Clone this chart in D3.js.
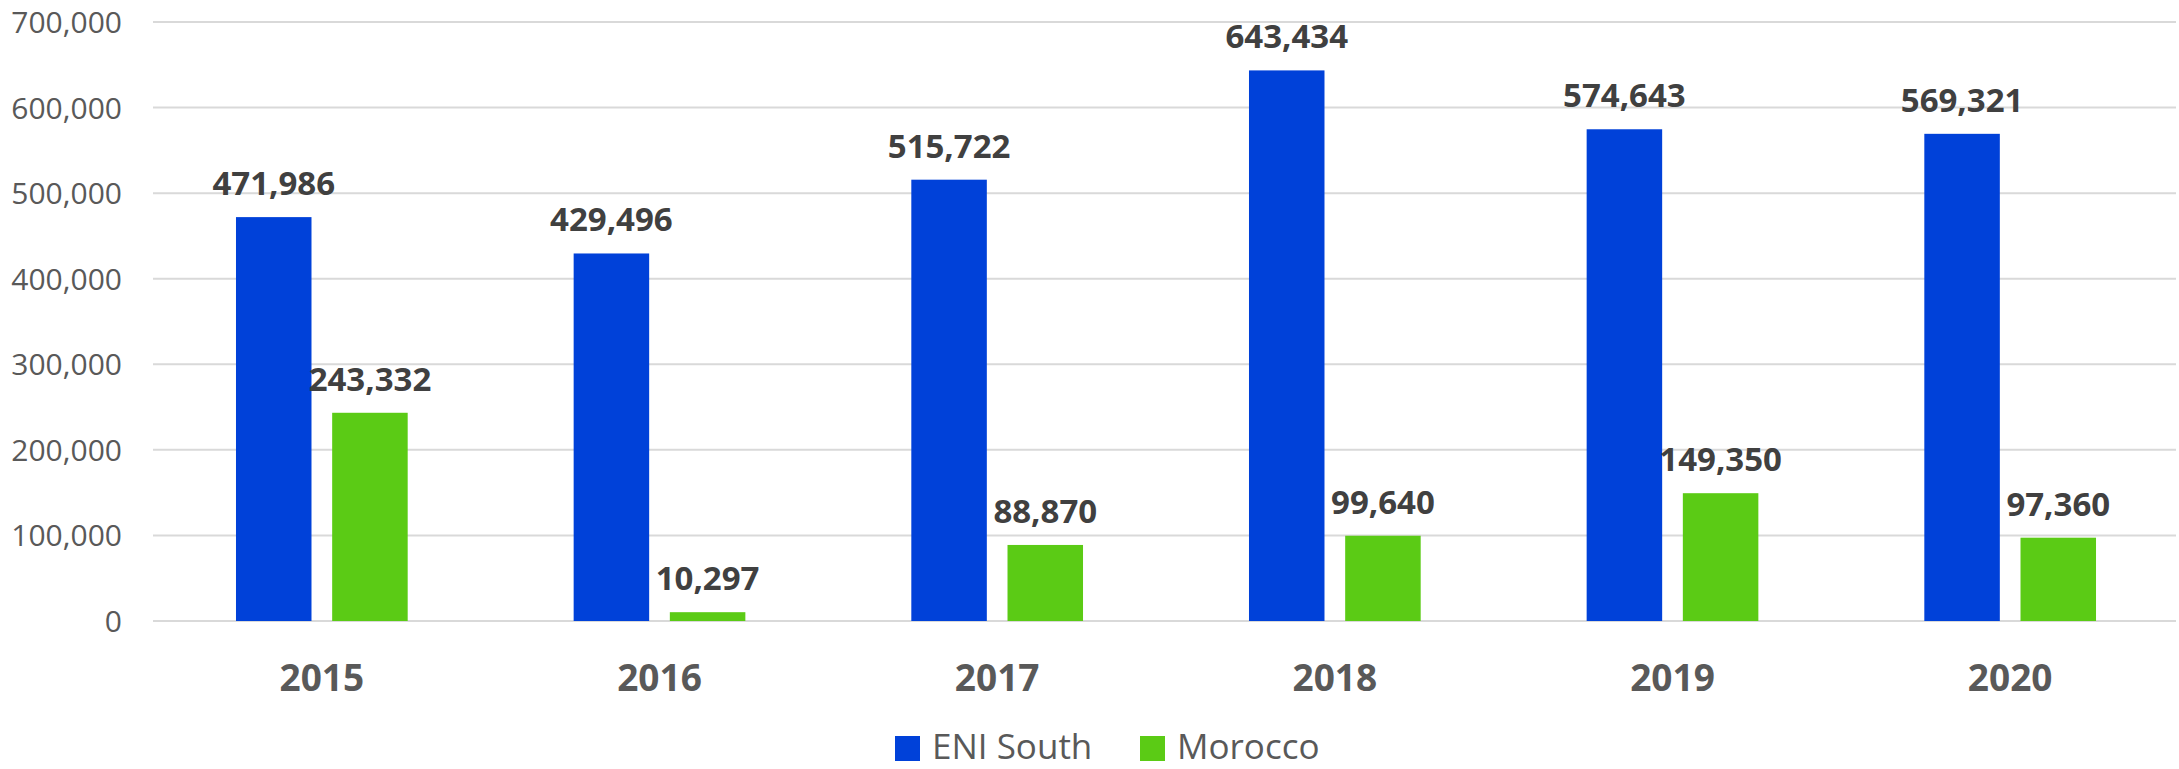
<!DOCTYPE html>
<html><head><meta charset="utf-8">
<script src="https://cdn.jsdelivr.net/npm/d3@7"></script>
<style>html,body{margin:0;padding:0;background:#fff;} svg{display:block;}</style>
</head><body>
<svg id="chart" width="2179" height="769"></svg>
<script>
const categories = ["2015","2016","2017","2018","2019","2020"];
const seriesNames = ["ENI South","Morocco"];
const eniSouth = [471986, 429496, 515722, 643434, 574643, 569321];
const morocco = [243332, 10297, 88870, 99640, 149350, 97360];
const yTicks = [0,100000,200000,300000,400000,500000,600000,700000];
const colors = ["#0041D9","#5BCB15"];

const svg = d3.select("#chart");
const W = 2179, H = 769;
const m = {left:153, right:0, top:22, bottom:148};
const plotB = H - m.bottom; // 621
const font = "'Open Sans', 'Liberation Sans', sans-serif";

const x0 = d3.scaleBand().domain(categories).range([m.left, W - m.right]).paddingInner(0).paddingOuter(0);
const groupW = 171.7;
const x1 = d3.scaleBand().domain(seriesNames).range([-groupW/2, groupW/2]).paddingInner(0.215);
const y = d3.scaleLinear().domain([0,700000]).range([plotB, m.top]);

const fmt = d3.format(",");
const yAxis = d3.axisLeft(y).tickValues(yTicks).tickSize(0).tickPadding(31).tickFormat(fmt);
const gy = svg.append("g").attr("transform", `translate(${m.left},0)`).call(yAxis);
gy.select(".domain").remove();
gy.selectAll("text").attr("font-family", font).attr("font-size", 30).attr("fill", "#595959").attr("dy","0.35em");
svg.append("g").selectAll("line").data(yTicks).join("line")
  .attr("x1", m.left).attr("x2", W - 3)
  .attr("y1", d => y(d)).attr("y2", d => y(d))
  .attr("stroke", "#d9d9d9").attr("stroke-width", 2);

const data = categories.map((c,i) => ({cat:c, vals:[eniSouth[i], morocco[i]]}));
const groups = svg.append("g").selectAll("g").data(data).join("g")
  .attr("transform", d => `translate(${x0(d.cat) + x0.bandwidth()/2},0)`);
const bars = groups.selectAll("g.b").data(d => d.vals.map((v,j) => ({s:seriesNames[j], v, j}))).join("g").attr("class","b");
bars.append("rect")
  .attr("x", d => x1(d.s)).attr("width", x1.bandwidth())
  .attr("y", d => y(d.v)).attr("height", d => plotB - y(d.v))
  .attr("fill", d => colors[d.j]);
bars.append("text")
  .attr("x", d => x1(d.s) + x1.bandwidth()/2)
  .attr("y", d => y(d.v) - 22)
  .attr("text-anchor","middle")
  .attr("font-family", font).attr("font-weight", 700).attr("font-size", 33)
  .attr("fill", "#404040")
  .text(d => fmt(d.v));

const xAxis = d3.axisBottom(x0).tickSize(0).tickPadding(0);
const gx = svg.append("g").attr("transform", `translate(0,${plotB})`).call(xAxis);
gx.select(".domain").remove();
gx.selectAll("text").attr("font-family", font).attr("font-weight", 700).attr("font-size", 37)
  .attr("fill", "#595959").attr("dy", null).attr("y", 70);

const legend = svg.append("g");
const legItems = [{name:seriesNames[0], x:895, c:colors[0]}, {name:seriesNames[1], x:1140, c:colors[1]}];
legItems.forEach(it => {
  legend.append("rect").attr("x", it.x).attr("y", 736).attr("width", 25).attr("height", 25).attr("fill", it.c);
  legend.append("text").attr("x", it.x + 37).attr("y", 759)
    .attr("font-family", font).attr("font-size", 35).attr("fill", "#595959").text(it.name);
});
</script>
</body></html>
